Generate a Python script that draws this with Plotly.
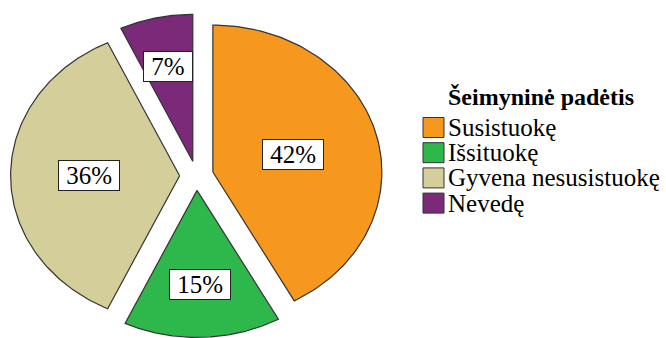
import numpy as np
import plotly.graph_objects as go

# Marital status shares (%)
categories = ["Susistuokę", "Išsituokę", "Gyvena nesusistuokę", "Nevedę"]
shares = [42, 15, 36, 7]
colors = ["#F7981E", "#2EB84B", "#D4CE9A", "#7B2979"]
legend_title = "Šeimyninė padėtis"

W, H = 666, 338
# pie geometry in pixels: centre, horizontal / vertical radii
CX, CY, RX, RY = 196.5, 175.7, 169.0, 147.0
PULL = 0.10  # explode distance, fraction of radius
SERIF = "Liberation Serif"
OUTLINE = "#333333"

fig = go.Figure()

total = float(sum(shares))
start = 0.0
for name, val, col in zip(categories, shares, colors):
    sweep = 2 * np.pi * val / total
    mid = start + sweep / 2
    ox, oy = PULL * np.sin(mid), PULL * np.cos(mid)
    t = np.linspace(start, start + sweep, 120)
    xs = np.concatenate([[ox], ox + np.sin(t), [ox]])
    ys = np.concatenate([[oy], oy + np.cos(t), [oy]])
    fig.add_trace(go.Scatter(
        x=xs, y=ys, mode="lines", fill="toself", fillcolor=col,
        line=dict(color=OUTLINE, width=1.2), name=name,
        showlegend=False, hoverinfo="skip"))
    # percentage label at the sector's centroid
    half = sweep / 2
    rc = 2 * np.sin(half) / (3 * half)
    fig.add_annotation(
        x=ox + rc * np.sin(mid), y=oy + rc * np.cos(mid),
        xref="x", yref="y", showarrow=False,
        text="\u00a0" + f"{val:.0f}%" + "\u00a0",
        font=dict(family=SERIF, size=25, color="black"),
        bgcolor="white", bordercolor="#222", borderwidth=1, borderpad=1)
    start += sweep


def px(x):
    return x / W


def py(y):
    return 1 - y / H


# legend block
fig.add_annotation(x=px(446), y=py(97), xref="paper", yref="paper",
                   xanchor="left", yanchor="middle", showarrow=False,
                   text=f"<b>{legend_title}</b>",
                   font=dict(family=SERIF, size=24, color="black"))
row0, pitch = 127.5, 25.2
for i, (name, col) in enumerate(zip(categories, colors)):
    yc = row0 + i * pitch
    fig.add_shape(type="rect", xref="paper", yref="paper",
                  x0=px(423), x1=px(444), y0=py(yc - 10), y1=py(yc + 10),
                  fillcolor=col, line=dict(color=OUTLINE, width=1))
    fig.add_annotation(x=px(446), y=py(yc), xref="paper", yref="paper",
                       xanchor="left", yanchor="middle", showarrow=False,
                       text=name,
                       font=dict(family=SERIF, size=25, color="black"))

fig.update_xaxes(range=[-CX / RX, (W - CX) / RX], visible=False, fixedrange=True)
fig.update_yaxes(range=[-(H - CY) / RY, CY / RY], visible=False, fixedrange=True)
fig.update_layout(width=W, height=H, margin=dict(l=0, r=0, t=0, b=0),
                  paper_bgcolor="white", plot_bgcolor="white",
                  showlegend=False)

fig.write_html("out.html")
